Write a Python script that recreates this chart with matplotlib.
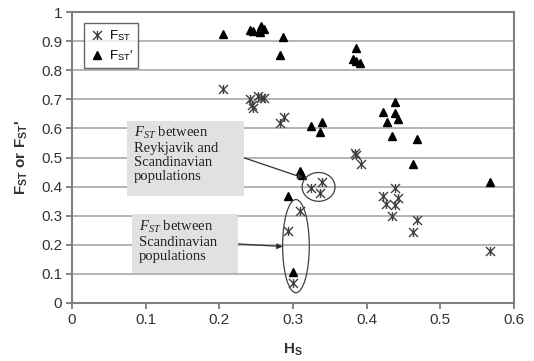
import matplotlib
matplotlib.use("Agg")
import matplotlib.pyplot as plt
from matplotlib.patches import Ellipse, Rectangle
from matplotlib.path import Path
import numpy as np

# ---- data ----
hs_fst = [0.205, 0.2415, 0.246, 0.244, 0.253, 0.257, 0.260, 0.288, 0.283,
          0.384, 0.386, 0.392, 0.324, 0.340, 0.336, 0.310, 0.2935, 0.2995,
          0.438, 0.4225, 0.443, 0.426, 0.438, 0.434, 0.468, 0.463, 0.567]
fst = [0.734, 0.700, 0.671, 0.679, 0.711, 0.706, 0.703, 0.640, 0.617,
       0.516, 0.510, 0.479, 0.395, 0.415, 0.378, 0.315, 0.249, 0.070,
       0.395, 0.367, 0.361, 0.341, 0.338, 0.300, 0.286, 0.245, 0.177]

hs_fstp = [0.205, 0.241, 0.246, 0.254, 0.257, 0.260, 0.255, 0.287, 0.283,
           0.386, 0.382, 0.386, 0.391, 0.324, 0.340, 0.336, 0.310, 0.312,
           0.2935, 0.2995, 0.438, 0.4215, 0.438, 0.427, 0.443, 0.434, 0.468,
           0.463, 0.567]
fstp = [0.926, 0.938, 0.936, 0.936, 0.953, 0.941, 0.930, 0.913, 0.852,
        0.878, 0.838, 0.832, 0.824, 0.608, 0.622, 0.587, 0.453, 0.441,
        0.367, 0.105, 0.691, 0.656, 0.652, 0.622, 0.633, 0.574, 0.564,
        0.479, 0.415]

x_ticks = [0, 0.1, 0.2, 0.3, 0.4, 0.5, 0.6]
x_ticklabels = ["0", "0.1", "0.2", "0.3", "0.4", "0.5", "0.6"]
y_ticks = [0, 0.1, 0.2, 0.3, 0.4, 0.5, 0.6, 0.7, 0.8, 0.9, 1.0]
y_ticklabels = ["0", "0.1", "0.2", "0.3", "0.4", "0.5", "0.6", "0.7", "0.8", "0.9", "1"]

label_box1 = "$F_{ST}$ between\nReykjavik and\nScandinavian\npopulations"
label_box2 = "$F_{ST}$ between\nScandinavian\npopulations"

plt.rcParams['font.family'] = ['Liberation Sans', 'DejaVu Sans']
plt.rcParams['mathtext.fontset'] = 'custom'
plt.rcParams['mathtext.rm'] = 'Liberation Sans'
plt.rcParams['mathtext.it'] = 'Liberation Sans'
plt.rcParams['mathtext.bf'] = 'Liberation Sans:bold'

W, H = 534, 361
fig = plt.figure(figsize=(W / 100, H / 100), dpi=100)
ax = fig.add_axes([72 / W, 1 - 303 / H, (514 - 72) / W, (303 - 12) / H])

# star-like cross marker (x with vertical bar)
verts = [(-1, -1), (1, 1), (-1, 1), (1, -1), (0, -1), (0, 1)]
codes = [Path.MOVETO, Path.LINETO, Path.MOVETO, Path.LINETO, Path.MOVETO, Path.LINETO]
star = Path(verts, codes)

ax.set_axisbelow(True)
for yv in y_ticks[1:]:
    ax.axhline(yv, color='#a8a8a8', lw=1.2, zorder=0)

ax.plot(hs_fst, fst, linestyle='none', marker=star, ms=6.5, mew=1.0,
        mec='#404040', mfc='none', label=r'F$_{\mathrm{ST}}$', zorder=3)
ax.plot(hs_fstp, fstp, linestyle='none', marker='^', ms=6,
        color='black', label=r"F$_{\mathrm{ST}}$'", zorder=3)

ax.set_xlim(0, 0.6)
ax.set_ylim(0, 1)
ax.set_xticks(x_ticks)
ax.set_xticklabels(x_ticklabels)
ax.set_yticks(y_ticks)
ax.set_yticklabels(y_ticklabels)
ax.tick_params(direction='out', length=4, width=1.2, color='#707070',
               labelsize=11, labelcolor='#333333', pad=3)
for s in ax.spines.values():
    s.set_color('#808080')
    s.set_linewidth(1.5)

ax.set_xlabel(r'H$_\mathregular{S}$', fontsize=11, fontweight='bold',
              color='#333333', labelpad=11)
ax.set_ylabel(r"F$_\mathregular{ST}$ or F$_\mathregular{ST}$'", fontsize=11,
              fontweight='bold', color='#333333', labelpad=8)

leg = ax.legend(loc='upper left', bbox_to_anchor=(0.012, 0.985), fontsize=9.5,
                frameon=True, fancybox=False, edgecolor='#404040',
                handletextpad=0.3, borderpad=0.4, labelspacing=0.4,
                handlelength=1.2)
leg.get_frame().set_linewidth(1.0)

# ellipses
ax.add_patch(Ellipse((0.3347, 0.399), 0.0448, 0.099, fill=False,
                     edgecolor='#404040', lw=0.9, zorder=4))
ax.add_patch(Ellipse((0.304, 0.1955), 0.0362, 0.32, fill=False,
                     edgecolor='#404040', lw=0.9, zorder=4))

# annotation boxes
def px_box(x0, y0, x1, y1):
    return Rectangle((x0 / W, 1 - y1 / H), (x1 - x0) / W, (y1 - y0) / H,
                     transform=fig.transFigure, facecolor='#e1e1e1',
                     edgecolor='none', zorder=5)

fig.patches.append(px_box(126.7, 120.7, 244, 196))
fig.patches.append(px_box(131.7, 214, 238.3, 272.7))

serif = dict(family=['Liberation Serif', 'DejaVu Serif'], fontsize=10.5,
             color='#222222', linespacing=1.1, va='top', ha='left')
plt.rcParams['mathtext.it'] = 'Liberation Serif:italic'
fig.text(134 / W, 1 - 125 / H, label_box1, zorder=6, **serif)
fig.text(139 / W, 1 - 219 / H, label_box2, zorder=6, **serif)

ax.annotate('', xy=(0.314, 0.43), xytext=(0.2334, 0.499),
            arrowprops=dict(arrowstyle='-|>', color='#303030', lw=0.9,
                            mutation_scale=8, shrinkA=0, shrinkB=0), zorder=6)
ax.annotate('', xy=(0.286, 0.194), xytext=(0.2256, 0.203),
            arrowprops=dict(arrowstyle='-|>', color='#303030', lw=0.9,
                            mutation_scale=8, shrinkA=0, shrinkB=0), zorder=6)

fig.savefig('out.png', dpi=100)
